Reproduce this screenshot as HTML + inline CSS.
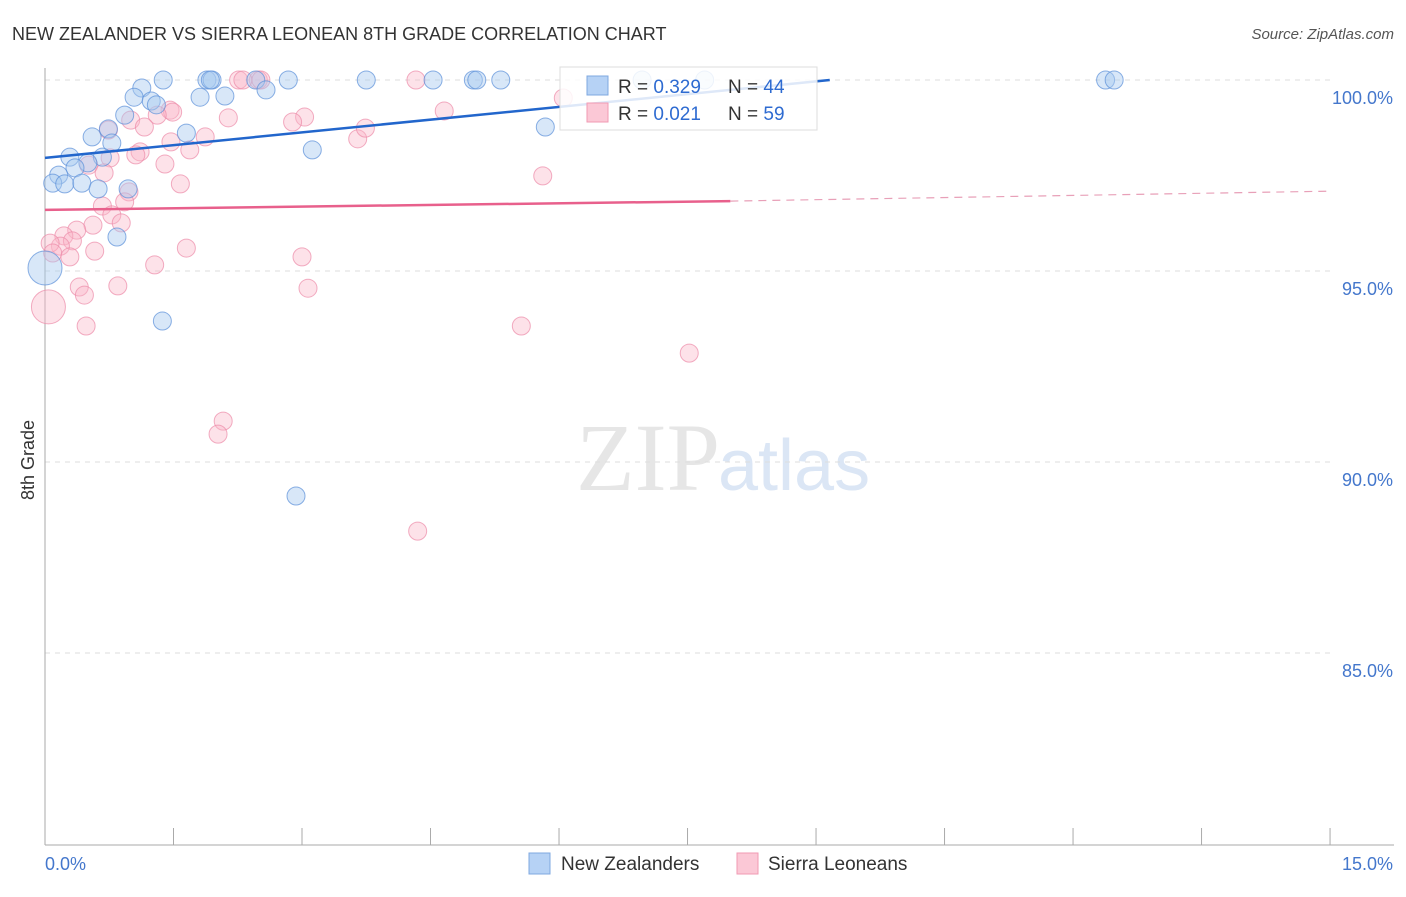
<!DOCTYPE html>
<html><head><meta charset="utf-8"><style>
body{margin:0;background:#fff;font-family:"Liberation Sans",sans-serif}
</style></head><body>
<svg width="1406" height="892" xmlns="http://www.w3.org/2000/svg" font-family="Liberation Sans, sans-serif">
<text x="12" y="40" font-size="18" fill="#333">NEW ZEALANDER VS SIERRA LEONEAN 8TH GRADE CORRELATION CHART</text>
<text x="1394" y="39" font-size="15" fill="#555" font-style="italic" text-anchor="end">Source: ZipAtlas.com</text>
<text x="720" y="490" font-size="96" fill="#e6e6e6" text-anchor="end" font-family="Liberation Serif, serif">ZIP</text>
<text x="718" y="490" font-size="72" fill="#dbe6f5">atlas</text>
<g id="grid"></g><g id="axes"></g><g id="pts"></g><g id="trend"></g>
<text x="34" y="460" font-size="18" fill="#333" transform="rotate(-90 34 460)" text-anchor="middle">8th Grade</text>
<g>
<rect x="560" y="67" width="257" height="63" fill="#fff" fill-opacity="0.85" stroke="#ddd"/>
<rect x="587" y="76" width="21" height="19" fill="#b6d2f5" stroke="#7fa8e0"/>
<rect x="587" y="103" width="21" height="19" fill="#fbc8d6" stroke="#f09ab3"/>
<text x="618" y="93" font-size="19" fill="#333">R = <tspan fill="#2e6bd1">0.329</tspan></text>
<text x="728" y="93" font-size="19" fill="#333">N = <tspan fill="#2e6bd1">44</tspan></text>
<text x="618" y="120" font-size="19" fill="#333">R = <tspan fill="#2e6bd1">0.021</tspan></text>
<text x="728" y="120" font-size="19" fill="#333">N = <tspan fill="#2e6bd1">59</tspan></text>
</g>
<g>
<rect x="529" y="853" width="21" height="21" fill="#b6d2f5" stroke="#7fa8e0"/>
<text x="561" y="870" font-size="19" fill="#333">New Zealanders</text>
<rect x="737" y="853" width="21" height="21" fill="#fbc8d6" stroke="#f09ab3"/>
<text x="768" y="870" font-size="19" fill="#333">Sierra Leoneans</text>
</g>
</svg>
<script>
const yTicks=[100,95,90,85];
const yTickLabels=["100.0%","95.0%","90.0%","85.0%"];
const xTicks=[0,1.5,3,4.5,6,7.5,9,10.5,12,13.5,15];
const blueX=[1.38,1.89,1.95,1.93,2.46,2.84,3.75,4.53,5.00,5.04,5.32,6.97,12.38,12.48,7.70,1.13,2.58,1.04,1.24,1.30,1.81,2.10,0.93,0.74,0.55,1.65,0.78,5.84,3.12,0.29,0.67,0.50,0.35,0.16,0.09,0.23,0.43,0.62,0.97,0.84,0,1.37,2.93];
const blueY=[100,100,100,100,100,100,100,100,100,100,100,100,100,100,100,99.79,99.74,99.55,99.45,99.35,99.55,99.58,99.08,98.72,98.51,98.61,98.35,98.77,98.17,97.98,97.98,97.83,97.70,97.51,97.30,97.28,97.30,97.15,97.15,95.89,95.08,93.69,89.11];
const blueR=[9,9,9,9,9,9,9,9,9,9,9,9,9,9,9,9,9,9,9,9,9,9,9,9,9,9,9,9,9,9,9,9,9,9,9,9,9,9,9,9,17,9,9];
const pinkX=[2.26,2.49,2.52,4.33,2.31,6.05,4.66,1.46,1.49,3.03,2.89,2.14,1.00,1.31,1.16,1.87,3.65,3.74,1.47,1.11,1.06,1.69,0.74,0.76,0.51,0.69,1.40,1.58,5.81,0.98,0.93,0.67,0.78,0.56,0.89,0.37,0.22,0.32,0.18,0.06,0.09,0.29,0.58,1.65,1.28,3.00,0.85,0.40,0.46,3.07,0.04,0.48,5.56,7.52,2.08,2.02,4.35];
const pinkY=[100,100,100,100,100,99.53,99.19,99.21,99.16,99.03,98.90,99.01,98.95,99.08,98.77,98.51,98.46,98.74,98.38,98.12,98.04,98.17,98.69,97.96,97.77,97.57,97.80,97.28,97.49,97.07,96.81,96.70,96.47,96.20,96.26,96.07,95.92,95.79,95.65,95.73,95.47,95.37,95.52,95.60,95.16,95.37,94.61,94.58,94.37,94.55,94.06,93.56,93.56,92.85,91.07,90.73,88.19];
const blueTrendX=[0,9.16], blueTrendY=[97.96,100];
const pinkTrendX=[0,8.0,15], pinkTrendY=[96.60,96.83,97.09];
const X=v=>45+v*85.67, Y=v=>80+(100-v)*38.2;
const NS="http://www.w3.org/2000/svg";
function mk(p,t,a){const e=document.createElementNS(NS,t);for(const k in a)e.setAttribute(k,a[k]);document.getElementById(p).appendChild(e);return e;}
yTicks.forEach((v,i)=>{
 const l=mk('grid','line',{x1:45,x2:1330,y1:Y(v),y2:Y(v),stroke:'#ddd','stroke-dasharray':'5,5'});
 
 
 const t=mk('grid','text',{x:1393,y:Y(v)+24,'font-size':18,fill:'#4477cc','text-anchor':'end'});
 t.textContent=yTickLabels[i];
 
 
});
let a=mk('axes','line',{x1:45,x2:45,y1:68,y2:845,stroke:'#aaa'});


a=mk('axes','line',{x1:45,x2:1394,y1:845,y2:845,stroke:'#aaa'});


xTicks.forEach(v=>{const t=mk('axes','line',{x1:X(v),x2:X(v),y1:828,y2:845,stroke:'#aaa'});
 
 });
let t=mk('axes','text',{x:45,y:870,'font-size':18,fill:'#4477cc'});t.textContent='0.0%';


t=mk('axes','text',{x:1393,y:870,'font-size':18,fill:'#4477cc','text-anchor':'end'});t.textContent='15.0%';


pinkX.forEach((v,i)=>{const c=mk('pts','circle',{cx:X(v),cy:Y(pinkY[i]),r:i==50?17:9,fill:'#f9b6c9','fill-opacity':0.4,stroke:'#ec8aa8','stroke-opacity':0.7});
 
 });
blueX.forEach((v,i)=>{const c=mk('pts','circle',{cx:X(v),cy:Y(blueY[i]),r:blueR[i],fill:'#a9c9f0','fill-opacity':0.45,stroke:'#5a8fd8','stroke-opacity':0.7});
 
 });
let l=mk('trend','line',{x1:X(blueTrendX[0]),y1:Y(blueTrendY[0]),x2:X(blueTrendX[1]),y2:Y(blueTrendY[1]),stroke:'#2266cc','stroke-width':2.5});


l=mk('trend','line',{x1:X(pinkTrendX[0]),y1:Y(pinkTrendY[0]),x2:X(pinkTrendX[1]),y2:Y(pinkTrendY[1]),stroke:'#e8608c','stroke-width':2.5});


l=mk('trend','line',{x1:X(pinkTrendX[1]),y1:Y(pinkTrendY[1]),x2:X(pinkTrendX[2]),y2:Y(pinkTrendY[2]),stroke:'#e8a0b8','stroke-width':1.2,'stroke-dasharray':'8,6'});


</script>
</body></html>
